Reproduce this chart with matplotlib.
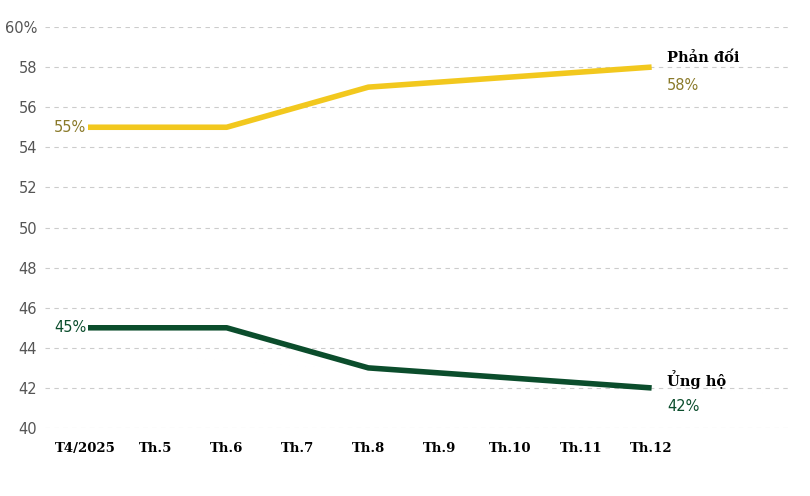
import matplotlib
matplotlib.use("Agg")
import matplotlib.pyplot as plt

months = ["T4/2025", "Th.5", "Th.6", "Th.7", "Th.8", "Th.9", "Th.10", "Th.11", "Th.12"]
oppose = [55, 55, 55, 56, 57, 57.25, 57.5, 57.75, 58]
support = [45, 45, 45, 44, 43, 42.75, 42.5, 42.25, 42]
yticks = [40, 42, 44, 46, 48, 50, 52, 54, 56, 58, 60]

YEL = "#F2C81E"; GRN = "#0B4D2C"; OLV = "#8A7A2A"
fig = plt.figure(figsize=(8.1, 4.96), dpi=100)
ax = fig.add_axes([0.056, 0.137, 0.919, 0.8086])
x = list(range(len(months)))
ax.plot(x, oppose, color=YEL, lw=4, solid_capstyle="butt", zorder=3)
ax.plot(x, support, color=GRN, lw=4, solid_capstyle="butt", zorder=3)
ax.set_xlim(-0.56, 9.95)
ax.set_ylim(40, 60)
ax.set_yticks(yticks)
ax.set_yticklabels([f"{v}%" if v == 60 else str(v) for v in yticks], color="#555555", fontsize=10.5)
ax.grid(axis="y", linestyle=(0, (4, 4)), color="#cccccc", lw=0.8)
ax.set_xticks(x)
ax.set_xticklabels(months, fontfamily="DejaVu Serif", fontweight="bold", fontsize=9.5)
ax.tick_params(length=0, pad=10)
ax.tick_params(axis="y", pad=6)
for s in ax.spines.values():
    s.set_visible(False)
ax.text(-0.44, oppose[0], f"{oppose[0]}%", color=OLV, fontsize=10.5, va="center", zorder=4,
        bbox=dict(fc="white", ec="none", pad=1))
ax.text(-0.44, support[0], f"{support[0]}%", color=GRN, fontsize=10.5, va="center", zorder=4,
        bbox=dict(fc="white", ec="none", pad=1))
ax.text(8.22, 58.45, "Phản đối", fontfamily="DejaVu Serif", fontweight="bold", fontsize=10.5, va="center")
ax.text(8.22, 57.1, f"{oppose[-1]}%", color=OLV, fontsize=10.5, va="center")
ax.text(8.22, 42.4, "Ủng hộ", fontfamily="DejaVu Serif", fontweight="bold", fontsize=10.5, va="center")
ax.text(8.22, 41.05, f"{support[-1]}%", color=GRN, fontsize=10.5, va="center")
fig.savefig("out.png", dpi=100)
